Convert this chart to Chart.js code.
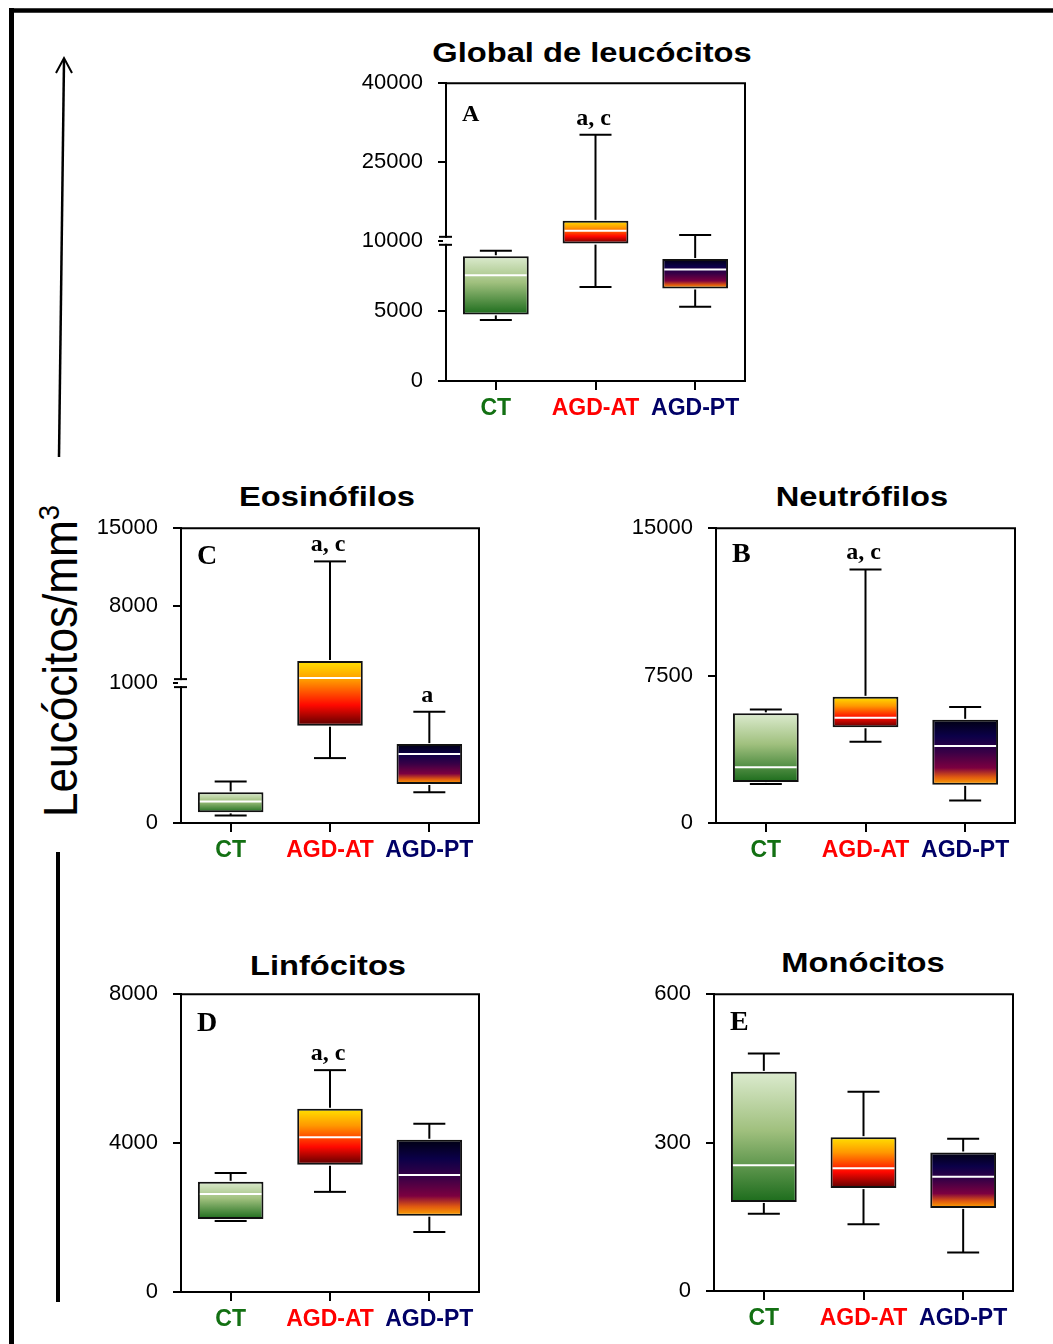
<!DOCTYPE html>
<html>
<head>
<meta charset="utf-8">
<script src="https://cdn.jsdelivr.net/npm/chart.js@4.4.0/dist/chart.umd.min.js"></script>
<style>
  body { margin: 0; background: #fff; width: 1053px; height: 1344px; position: relative; overflow: hidden;
         font-family: 'Liberation Sans', Arial, sans-serif; }
  canvas { position: absolute; }
  .title { position: absolute; font-weight: bold; font-size: 27px; line-height: 27px; white-space: nowrap;
           transform: translateX(-50%) scaleX(1.21); }
  .ylabel { position: absolute; font-size: 48px; line-height: 48px; white-space: nowrap;
            transform: translate(-50%, -50%) rotate(-90deg) scaleX(0.92); }
  .ylabel sup { font-size: 0.62em; line-height: 0; vertical-align: 0.62em; }
</style>
</head>
<body>
<svg width="1053" height="1344" style="position:absolute;left:0;top:0">
  <line x1="11.5" y1="8" x2="11.5" y2="1344" stroke="#000" stroke-width="5"/>
  <line x1="9" y1="10.5" x2="1053" y2="10.5" stroke="#000" stroke-width="4.5"/>
  <line x1="59" y1="457" x2="64" y2="60" stroke="#000" stroke-width="2.5"/>
  <polyline points="56,73 64,58 72,73" fill="none" stroke="#000" stroke-width="2"/>
  <line x1="58" y1="852" x2="58" y2="1302" stroke="#000" stroke-width="4"/>
</svg>

<div class="title" style="left:592px;top:40px">Global de leucócitos</div>
<div class="title" style="left:327px;top:484px">Eosinófilos</div>
<div class="title" style="left:862px;top:484px">Neutrófilos</div>
<div class="title" style="left:328px;top:953px">Linfócitos</div>
<div class="title" style="left:863px;top:950px">Monócitos</div>
<div class="ylabel" style="left:61px;top:661px">Leucócitos/mm<sup>3</sup></div>

<script>
// categorias e cores
const categories = ['CT', 'AGD-AT', 'AGD-PT'];
const categoryColors = ['#137013', '#ff0000', '#000066'];

// A - Global de leucócitos
const globalMin = [4350, 6700, 5300];
const globalQ1 = [4750, 9800, 6600];
const globalMedian = [7550, 11900, 7950];
const globalQ3 = [8900, 13800, 8700];
const globalMax = [9300, 30200, 11100];
const globalTicks = [0, 5000, 10000, 25000, 40000];
const globalNotes = ['', 'a, c', ''];

// C - Eosinófilos
const eosMin = [54, 464, 219];
const eosQ1 = [76, 695, 279];
const eosMedian = [154, 1470, 493];
const eosQ3 = [219, 3000, 564];
const eosMax = [297, 12000, 795];
const eosTicks = [0, 1000, 8000, 15000];
const eosNotes = ['', 'a, c', 'a'];

// B - Neutrófilos
const neuMin = [1980, 4140, 1150];
const neuQ1 = [2090, 4870, 1940];
const neuMedian = [2840, 5350, 3920];
const neuQ3 = [5580, 6420, 5250];
const neuMax = [5780, 12900, 5900];
const neuTicks = [0, 7500, 15000];
const neuNotes = ['', 'a, c', ''];

// D - Linfócitos
const linMin = [1910, 2690, 1610];
const linQ1 = [1960, 3420, 2050];
const linMedian = [2630, 4160, 3140];
const linQ3 = [2960, 4920, 4090];
const linMax = [3200, 5960, 4520];
const linTicks = [0, 4000, 8000];
const linNotes = ['', 'a, c', ''];

// E - Monócitos
const monMin = [156, 135, 78];
const monQ1 = [180, 208, 168];
const monMedian = [254, 248, 231];
const monQ3 = [443, 311, 280];
const monMax = [480, 403, 308];
const monTicks = [0, 300, 600];
const monNotes = ['', '', ''];

// gradientes das caixas
const gradientStops = [
  [[0, '#dcebcf'], [0.45, '#a0c07e'], [1, '#1c6c1c']],
  [[0, '#ffe200'], [0.3, '#ff9800'], [0.68, '#ff0800'], [1, '#5a0000']],
  [[0, '#000012'], [0.25, '#0b0048'], [0.5, '#3a0046'], [0.74, '#7c0040'], [0.88, '#e05a10'], [1, '#ffa800']]
];

const sans = "'Liberation Sans', Arial, sans-serif";
const serif = "'Liberation Serif', 'Times New Roman', serif";
Chart.defaults.font.family = sans;

// eixo quebrado
function brokenScale(breakAt, k) {
  return v => (v <= breakAt ? v : breakAt + (v - breakAt) * k);
}
const linear = v => v;

function line(ctx, x1, y1, x2, y2) {
  ctx.beginPath(); ctx.moveTo(x1, y1); ctx.lineTo(x2, y2); ctx.stroke();
}

function boxExtras(p) {
  return {
    id: 'boxExtras',
    afterDatasetsDraw(chart) {
      const ctx = chart.ctx, y = chart.scales.y;
      const meta = chart.getDatasetMeta(0);
      const py = v => y.getPixelForValue(p.fwd(v));
      ctx.save();
      ctx.lineWidth = 2;
      meta.data.forEach((bar, i) => {
        const x = bar.x, half = bar.width / 2;
        ctx.strokeStyle = '#000';
        line(ctx, x, py(p.max[i]), x, py(p.q3[i]) - 1);
        line(ctx, x, py(p.q1[i]) + 1, x, py(p.min[i]));
        line(ctx, x - 16, py(p.max[i]), x + 16, py(p.max[i]));
        line(ctx, x - 16, py(p.min[i]), x + 16, py(p.min[i]));
        ctx.strokeStyle = '#fff';
        line(ctx, x - half + 2, py(p.median[i]), x + half - 2, py(p.median[i]));
        if (p.notes[i]) {
          ctx.fillStyle = '#000';
          ctx.font = 'bold 24px ' + serif;
          ctx.textAlign = 'center';
          ctx.textBaseline = 'alphabetic';
          ctx.fillText(p.notes[i], x - 2, py(p.max[i]) - 10);
        }
      });
      ctx.restore();
    },
    afterDraw(chart) {
      const ctx = chart.ctx, y = chart.scales.y, area = chart.chartArea;
      ctx.save();
      ctx.strokeStyle = '#000';
      ctx.lineWidth = 2;
      ctx.beginPath();
      ctx.moveTo(area.left - 1, area.top);
      ctx.lineTo(area.right, area.top);
      ctx.lineTo(area.right, area.bottom + 1);
      ctx.stroke();
      if (p.breakAt) {
        const yb = y.getPixelForValue(p.fwd(p.breakAt));
        ctx.fillStyle = '#fff';
        ctx.fillRect(area.left - 3, yb - 3, 6, 6);
        line(ctx, area.left - 7, yb - 4, area.left + 6, yb - 4);
        line(ctx, area.left - 7, yb + 4, area.left + 6, yb + 4);
      }
      ctx.fillStyle = '#000';
      ctx.font = 'bold ' + p.letterSize + 'px ' + serif;
      ctx.textAlign = 'left';
      ctx.textBaseline = 'alphabetic';
      ctx.fillText(p.letter, area.left + 16, area.top + p.letterBase);
      ctx.restore();
    }
  };
}

function boxGradient(c, p) {
  const chart = c.chart, y = chart.scales.y;
  if (!chart.chartArea || !y || c.dataIndex === undefined) return '#999';
  const i = c.dataIndex;
  const top = y.getPixelForValue(p.fwd(p.q3[i]));
  const bottom = y.getPixelForValue(p.fwd(p.q1[i]));
  const g = chart.ctx.createLinearGradient(0, top, 0, bottom);
  gradientStops[i].forEach(s => g.addColorStop(s[0], s[1]));
  return g;
}

function makePanel(p) {
  // a area do grafico fica 28px abaixo do topo do canvas (meia etiqueta + padding)
  const W = p.r - p.l + 125, H = p.b - p.t + 78;
  const cv = document.createElement('canvas');
  cv.width = W; cv.height = H;
  cv.style.left = (p.l - 100) + 'px';
  cv.style.top = (p.t - 28) + 'px';
  cv.style.width = W + 'px'; cv.style.height = H + 'px';
  document.body.appendChild(cv);
  const top = p.ticks[p.ticks.length - 1];
  return new Chart(cv, {
    type: 'bar',
    data: {
      labels: categories,
      datasets: [{
        data: categories.map((c, i) => [p.fwd(p.q1[i]), p.fwd(p.q3[i])]),
        backgroundColor: c => boxGradient(c, p),
        borderColor: '#111',
        borderWidth: 2,
        borderSkipped: false,
        barPercentage: 0.66,
        categoryPercentage: 1
      }]
    },
    options: {
      responsive: false,
      animation: false,
      devicePixelRatio: 1,
      layout: { padding: { top: 1, right: 25, left: 0, bottom: 0 } },
      plugins: { legend: { display: false }, tooltip: { enabled: false } },
      scales: {
        x: {
          grid: { offset: false, drawOnChartArea: false, tickLength: 9, color: '#000', lineWidth: 2 },
          border: { color: '#000', width: 2 },
          ticks: {
            font: { size: 23, weight: 'bold' },
            color: c => categoryColors[c.index],
            padding: 5, maxRotation: 0, autoSkip: false
          },
          afterFit: s => { s.height = 50; }
        },
        y: {
          min: 0, max: p.fwd(top),
          grid: { drawOnChartArea: false, tickLength: 8, color: '#000', lineWidth: 2 },
          border: { color: '#000', width: 2 },
          ticks: { font: { size: 22 }, color: '#000', padding: 15, callback: (v, i) => String(p.ticks[i]) },
          afterBuildTicks: s => { s.ticks = p.ticks.map(v => ({ value: p.fwd(v) })); },
          afterFit: s => { s.width = 100; }
        }
      }
    },
    plugins: [boxExtras(p)]
  });
}

makePanel({ l: 446, t: 83, r: 745, b: 381, letter: 'A', letterSize: 24, letterBase: 38,
  min: globalMin, q1: globalQ1, median: globalMedian, q3: globalQ3, max: globalMax,
  ticks: globalTicks, notes: globalNotes, fwd: brokenScale(10000, 0.3748), breakAt: 10000 });
makePanel({ l: 181, t: 528, r: 479, b: 823, letter: 'C', letterSize: 28, letterBase: 36,
  min: eosMin, q1: eosQ1, median: eosMedian, q3: eosQ3, max: eosMax,
  ticks: eosTicks, notes: eosNotes, fwd: brokenScale(1000, 0.0791), breakAt: 1000 });
makePanel({ l: 716, t: 528, r: 1015, b: 823, letter: 'B', letterSize: 28, letterBase: 34,
  min: neuMin, q1: neuQ1, median: neuMedian, q3: neuQ3, max: neuMax,
  ticks: neuTicks, notes: neuNotes, fwd: linear });
makePanel({ l: 181, t: 994, r: 479, b: 1292, letter: 'D', letterSize: 28, letterBase: 37,
  min: linMin, q1: linQ1, median: linMedian, q3: linQ3, max: linMax,
  ticks: linTicks, notes: linNotes, fwd: linear });
makePanel({ l: 714, t: 994, r: 1013, b: 1291, letter: 'E', letterSize: 28, letterBase: 36,
  min: monMin, q1: monQ1, median: monMedian, q3: monQ3, max: monMax,
  ticks: monTicks, notes: monNotes, fwd: linear });
</script>
</body>
</html>
